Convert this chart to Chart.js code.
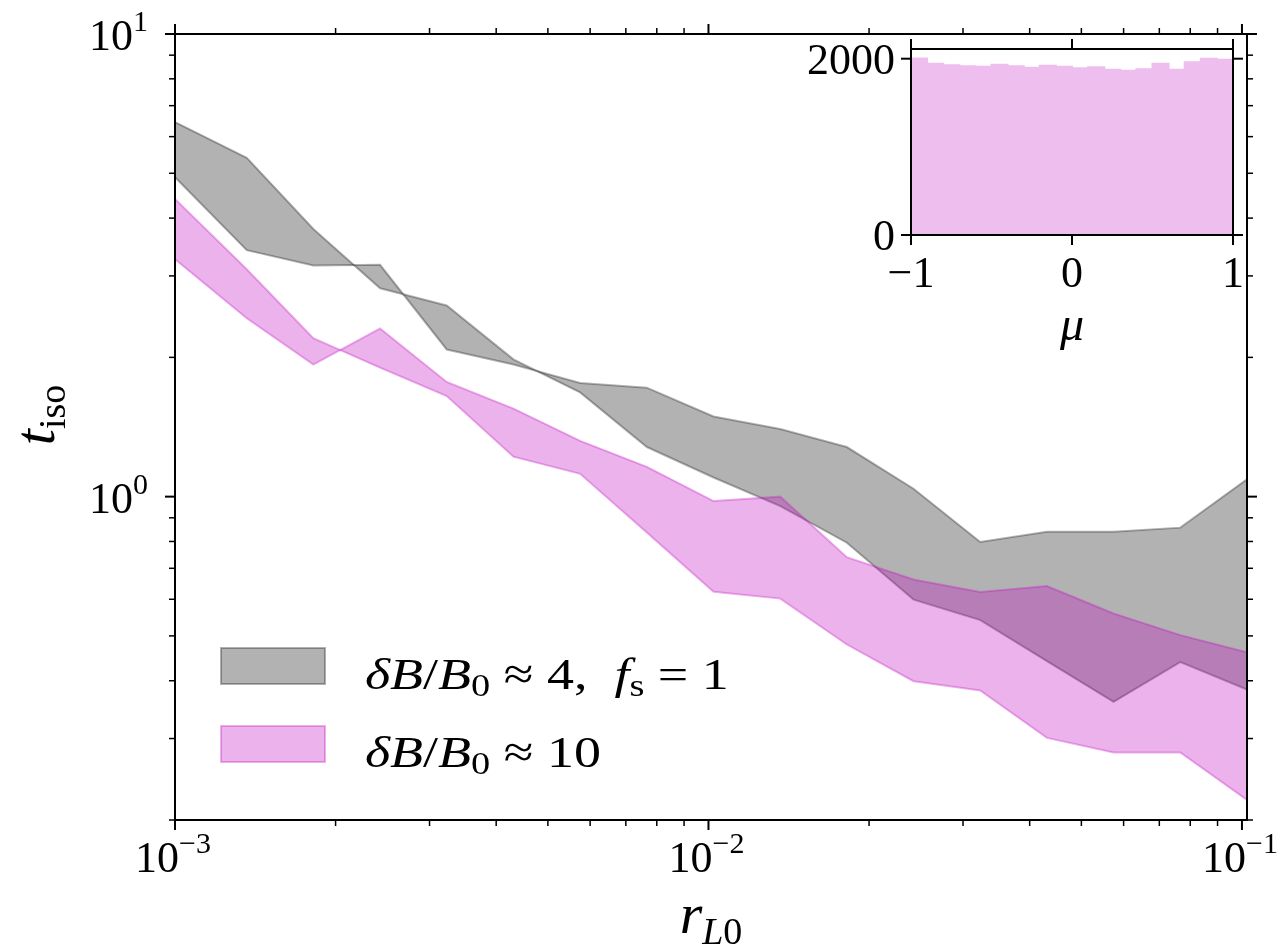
<!DOCTYPE html>
<html>
<head>
<meta charset="utf-8">
<script src="https://cdn.jsdelivr.net/npm/chart.js@4.4.0/dist/chart.umd.min.js"></script>
<style>
  body { margin: 0; background: #fff; }
  #wrap { position: relative; width: 1281px; height: 945px; }
  #wrap canvas { position: absolute; left: 0; top: 0; }
</style>
</head>
<body>
<div id="wrap">
  <canvas id="main-chart" width="1281" height="945"></canvas>
  <canvas id="inset-chart" width="1281" height="945"></canvas>
</div>
<script>
// r_L0 sample points
const rL0 = [0.001, 0.001363, 0.001817, 0.002423, 0.003231, 0.004309, 0.005746, 0.007663,
  0.01022, 0.01363, 0.01817, 0.02423, 0.03231, 0.04309, 0.05746, 0.07663, 0.1022];
// dB/B0 ~ 4, f_s = 1 : the two edges of the grey band
const greyEdgeA = [6.45, 5.40, 3.79, 2.82, 2.59, 1.98, 1.68, 1.28, 1.10, 0.954, 0.795, 0.599, 0.541, 0.441, 0.360, 0.439, 0.383];
const greyEdgeB = [4.90, 3.41, 3.16, 3.17, 2.08, 1.93, 1.76, 1.72, 1.49, 1.40, 1.28, 1.04, 0.798, 0.840, 0.840, 0.857, 1.09];
// dB/B0 ~ 10 : the two edges of the magenta band
const pinkEdgeA = [4.40, 3.10, 2.20, 1.90, 1.65, 1.22, 1.12, 0.836, 0.623, 0.602, 0.479, 0.399, 0.381, 0.301, 0.280, 0.280, 0.221];
const pinkEdgeB = [3.26, 2.43, 1.93, 2.31, 1.77, 1.55, 1.32, 1.16, 0.978, 1.00, 0.740, 0.662, 0.622, 0.641, 0.559, 0.502, 0.461];

// inset histogram of mu
const muBins = [-0.95, -0.85, -0.75, -0.65, -0.55, -0.45, -0.35, -0.25, -0.15, -0.05,
  0.05, 0.15, 0.25, 0.35, 0.45, 0.55, 0.65, 0.75, 0.85, 0.95];
const muCounts = [2003, 1942, 1927, 1915, 1908, 1931, 1915, 1897, 1920, 1908,
  1893, 1904, 1874, 1863, 1881, 1942, 1874, 1961, 2000, 1988];

// tick labels
const xTickValues = [0.001, 0.01, 0.1];
const xTickExps = ["\u22123", "\u22122", "\u22121"];
const yTickValues = [1, 10];
const yTickExps = ["0", "1"];
const muTickValues = [-1, 0, 1];
const muTickLabels = ["\u22121", "0", "1"];
const countTickValues = [0, 2000];
const countTickLabels = ["0", "2000"];

const legendLabels = ["grey", "pink"];

const GREY = "rgba(0, 0, 0, 0.3)";
const PINK = "rgba(191, 0, 191, 0.3)";
const PINK_HIST = "rgb(238, 191, 238)";
const SERIF = '"Liberation Serif", "DejaVu Serif", serif';

function fnt(size, italic) {
  return (italic ? "italic " : "") + size + "px " + SERIF;
}

function toPts(ys) {
  return rL0.map(function (x, i) { return { x: x, y: ys[i] }; });
}

// draw a row of text pieces (for sub/superscripts)
function drawRuns(ctx, parts, x, y, align, sx) {
  sx = sx || 1;
  var w = 0;
  parts.forEach(function (p) {
    ctx.font = p.f;
    p.w = ctx.measureText(p.t).width;
    w += p.w;
  });
  w *= sx;
  var cx = align === "center" ? x - w / 2 : align === "right" ? x - w : x;
  ctx.save();
  ctx.translate(cx, y);
  ctx.scale(sx, 1);
  var ox = 0;
  parts.forEach(function (p) {
    ctx.font = p.f;
    ctx.fillText(p.t, ox, p.dy || 0);
    ox += p.w;
  });
  ctx.restore();
  return w;
}

function line(ctx, x1, y1, x2, y2) {
  ctx.beginPath();
  ctx.moveTo(x1, y1);
  ctx.lineTo(x2, y2);
  ctx.stroke();
}

const mainDecor = {
  id: "mainDecor",
  afterDraw(chart) {
    const ctx = chart.ctx;
    const a = chart.chartArea;
    const xs = chart.scales.x;
    const ys = chart.scales.y;
    ctx.save();
    ctx.strokeStyle = "#000";
    ctx.fillStyle = "#000";

    // ticks, outward on all four sides
    for (var e = -3; e <= -1; e++) {
      for (var m = 1; m <= 9; m++) {
        var v = m * Math.pow(10, e);
        if (v < xs.min * 0.999 || v > xs.max * 1.001) continue;
        var px = xs.getPixelForValue(v);
        var len = m === 1 ? 10 : 6;
        ctx.lineWidth = m === 1 ? 2 : 1.5;
        line(ctx, px, a.bottom, px, a.bottom + len);
        line(ctx, px, a.top, px, a.top - len);
      }
    }
    for (var e2 = -1; e2 <= 1; e2++) {
      for (var m2 = 1; m2 <= 9; m2++) {
        var v2 = m2 * Math.pow(10, e2);
        if (v2 < ys.min * 0.999 || v2 > ys.max * 1.001) continue;
        var py = ys.getPixelForValue(v2);
        var len2 = m2 === 1 ? 10 : 6;
        ctx.lineWidth = m2 === 1 ? 2 : 1.5;
        line(ctx, a.left, py, a.left - len2, py);
        line(ctx, a.right, py, a.right + len2, py);
      }
    }

    // frame
    ctx.lineWidth = 2;
    ctx.strokeRect(a.left, a.top, a.right - a.left, a.bottom - a.top);

    // tick labels
    ctx.textBaseline = "alphabetic";
    xTickValues.forEach(function (v, i) {
      drawRuns(ctx, [
        { t: "10", f: fnt(44) },
        { t: xTickExps[i], f: fnt(30), dy: -19 },
      ], xs.getPixelForValue(v) - 2, a.bottom + 52, "center");
    });
    yTickValues.forEach(function (v, i) {
      drawRuns(ctx, [
        { t: "10", f: fnt(44) },
        { t: yTickExps[i], f: fnt(30), dy: -19 },
      ], a.left - 27, ys.getPixelForValue(v) + 16, "right");
    });

    // axis titles
    drawRuns(ctx, [
      { t: "r", f: fnt(58, true) },
      { t: "L", f: fnt(38, true), dy: 11 },
      { t: "0", f: fnt(38), dy: 11 },
    ], (a.left + a.right) / 2, 933, "center");

    ctx.save();
    ctx.translate(54, 415);
    ctx.rotate(-Math.PI / 2);
    drawRuns(ctx, [
      { t: "t", f: fnt(58, true) },
      { t: "iso", f: fnt(38), dy: 11 },
    ], 0, 0, "center");
    ctx.restore();

    // legend
    var rows = [
      { color: GREY, y: 648, parts: [
        { t: "\u03b4", f: fnt(45, true) },
        { t: "B", f: fnt(45, true) },
        { t: "/", f: fnt(45) },
        { t: "B", f: fnt(45, true) },
        { t: "0", f: fnt(32), dy: 7 },
        { t: " \u2248 4,  ", f: fnt(45) },
        { t: "f", f: fnt(45, true) },
        { t: "s", f: fnt(32), dy: 7 },
        { t: " = 1", f: fnt(45) },
      ] },
      { color: PINK, y: 726, parts: [
        { t: "\u03b4", f: fnt(45, true) },
        { t: "B", f: fnt(45, true) },
        { t: "/", f: fnt(45) },
        { t: "B", f: fnt(45, true) },
        { t: "0", f: fnt(32), dy: 7 },
        { t: " \u2248 10", f: fnt(45) },
      ] },
    ];
    rows.forEach(function (r, i) {
      ctx.fillStyle = r.color;
      ctx.strokeStyle = r.color;
      ctx.lineWidth = 2;
      ctx.fillRect(221, r.y, 104, 36);
      ctx.strokeRect(221, r.y, 104, 36);
      ctx.fillStyle = "#000";
      drawRuns(ctx, r.parts, 365, r.y + 41, "left", 1.2);
    });
    ctx.restore();
  },
};

const insetDecor = {
  id: "insetDecor",
  beforeDatasetsDraw(chart) {
    const a = chart.chartArea;
    chart.ctx.save();
    chart.ctx.fillStyle = "#fff";
    chart.ctx.fillRect(a.left, a.top, a.right - a.left, a.bottom - a.top);
    chart.ctx.restore();
  },
  afterDraw(chart) {
    const ctx = chart.ctx;
    const a = chart.chartArea;
    const xs = chart.scales.x;
    const ys = chart.scales.y;
    ctx.save();
    ctx.strokeStyle = "#000";
    ctx.fillStyle = "#000";
    ctx.lineWidth = 2;
    muTickValues.forEach(function (v, i) {
      var px = xs.getPixelForValue(v);
      line(ctx, px, a.bottom, px, a.bottom + 10);
      line(ctx, px, a.top, px, a.top - 10);
      drawRuns(ctx, [{ t: muTickLabels[i], f: fnt(44) }], px, a.bottom + 52, "center");
    });
    countTickValues.forEach(function (v, i) {
      var py = ys.getPixelForValue(v);
      line(ctx, a.left, py, a.left - 10, py);
      line(ctx, a.right, py, a.right + 10, py);
      drawRuns(ctx, [{ t: countTickLabels[i], f: fnt(44) }], a.left - 16, py + 15, "right");
    });
    ctx.strokeRect(a.left, a.top, a.right - a.left, a.bottom - a.top);
    drawRuns(ctx, [{ t: "\u03bc", f: fnt(48, true) }], (a.left + a.right) / 2, 340, "center");
    ctx.restore();
  },
};

const mainChart = new Chart(document.getElementById("main-chart"), {
  type: "line",
  data: {
    datasets: [
      { label: legendLabels[1], data: toPts(pinkEdgeA), fill: "+1", borderColor: PINK, backgroundColor: PINK },
      { label: legendLabels[1], data: toPts(pinkEdgeB), fill: false, borderColor: PINK },
      { label: legendLabels[0], data: toPts(greyEdgeA), fill: "+1", borderColor: GREY, backgroundColor: GREY },
      { label: legendLabels[0], data: toPts(greyEdgeB), fill: false, borderColor: GREY },
    ],
  },
  options: {
    responsive: false,
    animation: false,
    devicePixelRatio: 1,
    layout: { padding: { left: 175, right: 34, top: 34, bottom: 125 } },
    elements: {
      point: { radius: 0 },
      line: { borderWidth: 2, tension: 0 },
    },
    scales: {
      x: { type: "logarithmic", min: 0.001, max: 0.1022, display: false },
      y: { type: "logarithmic", min: 0.2, max: 10, display: false },
    },
    plugins: {
      legend: { display: false },
      tooltip: { enabled: false },
    },
  },
  plugins: [mainDecor],
});

const insetChart = new Chart(document.getElementById("inset-chart"), {
  type: "bar",
  data: {
    datasets: [
      {
        data: muBins.map(function (m, i) { return { x: m, y: muCounts[i] }; }),
        backgroundColor: PINK_HIST,
        borderWidth: 0,
        inflateAmount: 1,
        barPercentage: 1,
        categoryPercentage: 1,
      },
    ],
  },
  options: {
    responsive: false,
    animation: false,
    devicePixelRatio: 1,
    layout: { padding: { left: 911, right: 48, top: 49, bottom: 710 } },
    scales: {
      x: { type: "linear", min: -1, max: 1, offset: false, display: false, ticks: { stepSize: 0.5 } },
      y: { min: 0, max: 2110, display: false },
    },
    plugins: {
      legend: { display: false },
      tooltip: { enabled: false },
    },
  },
  plugins: [insetDecor],
});
</script>
</body>
</html>
